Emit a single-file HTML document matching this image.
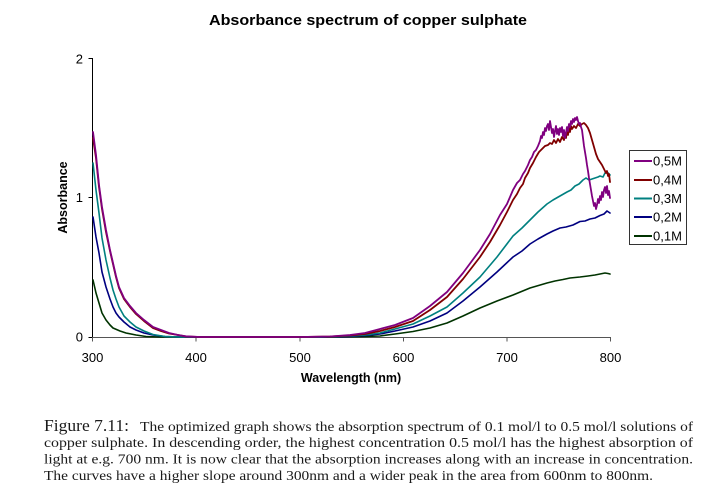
<!DOCTYPE html>
<html>
<head>
<meta charset="utf-8">
<style>
  html,body{margin:0;padding:0;background:#fff;}
  svg{display:block;}
  .ax{font-family:"Liberation Sans",Arial,sans-serif;}
  .cap{font-family:"Liberation Serif","Times New Roman",serif;fill:#1a1a1a;}
</style>
</head>
<body>
<svg width="715" height="502" viewBox="0 0 715 502" xmlns="http://www.w3.org/2000/svg">
  <rect x="0" y="0" width="715" height="502" fill="#fff"/>

  <!-- Title -->
  <text class="ax" x="209" y="25" font-size="15" font-weight="bold" fill="#000" textLength="318" lengthAdjust="spacingAndGlyphs">Absorbance spectrum of copper sulphate</text>

  <!-- Y axis label -->
  <text class="ax" transform="translate(67,197.5) rotate(-90)" text-anchor="middle" font-size="12.5" font-weight="bold" fill="#000">Absorbance</text>

  <!-- Axes -->
  <line x1="92.5" y1="58" x2="92.5" y2="337.5" stroke="#000" stroke-width="1"/>
  <line x1="92" y1="337.5" x2="611" y2="337.5" stroke="#555" stroke-width="1"/>
  <!-- y ticks -->
  <line x1="88.5" y1="58.5" x2="92.5" y2="58.5" stroke="#000"/>
  <line x1="88.5" y1="197.5" x2="92.5" y2="197.5" stroke="#000"/>
  <line x1="88.5" y1="337.5" x2="92.5" y2="337.5" stroke="#000"/>
  <!-- x ticks -->
  <g stroke="#555" stroke-width="1">
    <line x1="92.5" y1="337" x2="92.5" y2="341.5"/>
    <line x1="196" y1="337" x2="196" y2="341.5"/>
    <line x1="300" y1="337" x2="300" y2="341.5"/>
    <line x1="403.5" y1="337" x2="403.5" y2="341.5"/>
    <line x1="507" y1="337" x2="507" y2="341.5"/>
    <line x1="610.5" y1="337" x2="610.5" y2="341.5"/>
  </g>

  <!-- y tick labels -->
  <g class="ax" font-size="13" fill="#000" text-anchor="end">
    <text x="83" y="63.5">2</text>
    <text x="83" y="202">1</text>
    <text x="83" y="341.5">0</text>
  </g>
  <!-- x tick labels -->
  <g class="ax" font-size="13" fill="#000" text-anchor="middle">
    <text x="92.5" y="362">300</text>
    <text x="196" y="362">400</text>
    <text x="300" y="362">500</text>
    <text x="403.5" y="362">600</text>
    <text x="507" y="362">700</text>
    <text x="610.5" y="362">800</text>
  </g>
  <text class="ax" x="351" y="382" text-anchor="middle" font-size="12.5" font-weight="bold" fill="#000">Wavelength (nm)</text>

  <!-- Series -->
  <g fill="none" stroke-linejoin="round" stroke-linecap="round">
    <!-- 0,1M green -->
    <polyline stroke="#003300" stroke-width="1.6" points="93,280 96,293 99,303 102,313 106,320 110,325 113,328 120,331 126,333 136,335 146,336.5 160,337 340,337 365,336.5 380,336 395,334 413,331.5 430,328 447,323 463,316 480,308 497,301 513,295 530,288 547,283 555,281 563,279.5 570,278 580,277 588,276 595,275 600,274 605,273 608,273.5 610,274"/>
    <!-- 0,2M blue -->
    <polyline stroke="#000080" stroke-width="1.6" points="93,217 96,237 99,253 102,272 106,287 110,299 113,307 116,313 119,317 124,322 130,327 136,330 144,333 153,335 165,336.5 180,337 320,337 350,336.5 365,335.5 380,334 395,331 413,327 430,321 447,313 463,301 480,287 497,272 513,257 522,251 530,244 538,239 547,234 553,231 560,228 566,227 573,225 577,223 580,221.5 585,221 590,219 595,218 600,215.5 604,214 607,211 610,213"/>
    <!-- 0,3M teal -->
    <polyline stroke="#008080" stroke-width="1.6" points="93,163 96,190 99,213 102,238 106,260 110,278 113,290 116,299 119,307 124,316 130,322 136,327 144,331 153,334.5 165,336.5 180,337 320,337 350,336 365,335 380,333 395,329 413,324 430,316 447,307 463,293 480,277 497,257 513,236 522,228 530,220 538,212 547,204 553,200 560,196 567,192 571,190 575,186 579,184 583,180 586,178 589,180 592,179 595,178 598,177 600,176 603,177 605,173 607,172 609,174 610,175"/>
    <!-- 0,4M dark red -->
    <polyline stroke="#800000" stroke-width="1.8" points="93,138 96,158 99,187 102,209 106,232 110,251 113,264 116,277 119,288 124,299 130,307 136,314 144,321 153,328 161,331 169,333.5 178,335 186,336.5 200,337 300,337 330,336.5 350,335.5 365,334 380,331 395,327 413,321 430,310 447,297 463,279 480,257 490,242 500,225 507,212 513,200 517,194 520,188 523,184 525,178 528,173 530,168 533,163 536,157 539,152 542,149 545,146 548,145 550,143 552,144 554,140 556,143 558,139 560,142 562,137 564,140 565,133 566,138 567,130 568,135 569,128 570,132 571,126 572,129 574,126 576,128 578,124 580,126 582,124 584,123 586,125 588,128 590,133 592,140 594,147 596,154 598,159 600,162 602,165 604,169 606,173 607,171 608,176 609,174 610,182"/>
    <!-- 0,5M purple -->
    <polyline stroke="#800080" stroke-width="1.8" points="93,132 96,155 99,185 102,207 106,230 110,250 113,263 116,276 119,287 124,298 130,306 136,313 144,320 153,327 161,330 169,333 178,335 186,336.3 200,337 300,337 330,336.5 350,335 365,333 380,329 395,325 413,318 430,306 447,292 463,273 480,250 490,234 500,215 507,204 513,190 517,183 520,180 523,174 525,171 528,165 530,160 532,157 534,152 536,150 538,146 540,141 541,136 542,138 543,132 544,135 545,128 546,131 547,126 548,124 549,130 550,121 551,127 552,133 553,129 554,137 555,131 556,126 557,134 558,129 559,135 560,128 561,132 562,127 563,136 564,130 565,138 566,133 567,127 568,131 569,124 570,127 571,121 572,124 573,119 574,122 575,118 576,120 577,117 578,121 579,124 580,123 581,127 582,130 583,138 584,146 585,152 586,158 587,165 588,171 589,178 590,184 591,190 592,196 593,201 594,206 595,203 596,209 597,205 598,199 599,203 600,196 601,200 602,192 603,197 604,190 605,187 606,193 607,186 608,195 609,191 610,198"/>
  </g>

  <!-- Legend -->
  <rect x="629.5" y="150.5" width="57" height="94" fill="#fff" stroke="#333" stroke-width="1"/>
  <g stroke-width="2">
    <line x1="634" y1="161" x2="652" y2="161" stroke="#800080"/>
    <line x1="634" y1="180" x2="652" y2="180" stroke="#800000"/>
    <line x1="634" y1="198.5" x2="652" y2="198.5" stroke="#008080"/>
    <line x1="634" y1="217" x2="652" y2="217" stroke="#000080"/>
    <line x1="634" y1="236" x2="652" y2="236" stroke="#003300"/>
  </g>
  <g class="ax" font-size="13" fill="#000">
    <text x="653" y="165.5">0,5M</text>
    <text x="653" y="184.5">0,4M</text>
    <text x="653" y="203">0,3M</text>
    <text x="653" y="221.5">0,2M</text>
    <text x="653" y="240.5">0,1M</text>
  </g>

  <!-- Caption -->
  <text class="cap" x="44" y="431" font-size="17" textLength="85" lengthAdjust="spacingAndGlyphs">Figure 7.11:</text>
  <text class="cap" x="140" y="431" font-size="13.5" textLength="553" lengthAdjust="spacingAndGlyphs">The optimized graph shows the absorption spectrum of 0.1 mol/l to 0.5 mol/l solutions of</text>
  <text class="cap" x="44" y="447" font-size="13.5" textLength="649" lengthAdjust="spacingAndGlyphs">copper sulphate.  In descending order, the highest concentration 0.5 mol/l has the highest absorption of</text>
  <text class="cap" x="44" y="463.5" font-size="13.5" textLength="649" lengthAdjust="spacingAndGlyphs">light at e.g.  700 nm.  It is now clear that the absorption increases along with an increase in concentration.</text>
  <text class="cap" x="44" y="480" font-size="13.5" textLength="609" lengthAdjust="spacingAndGlyphs">The curves have a higher slope around 300nm and a wider peak in the area from 600nm to 800nm.</text>
</svg>
</body>
</html>
